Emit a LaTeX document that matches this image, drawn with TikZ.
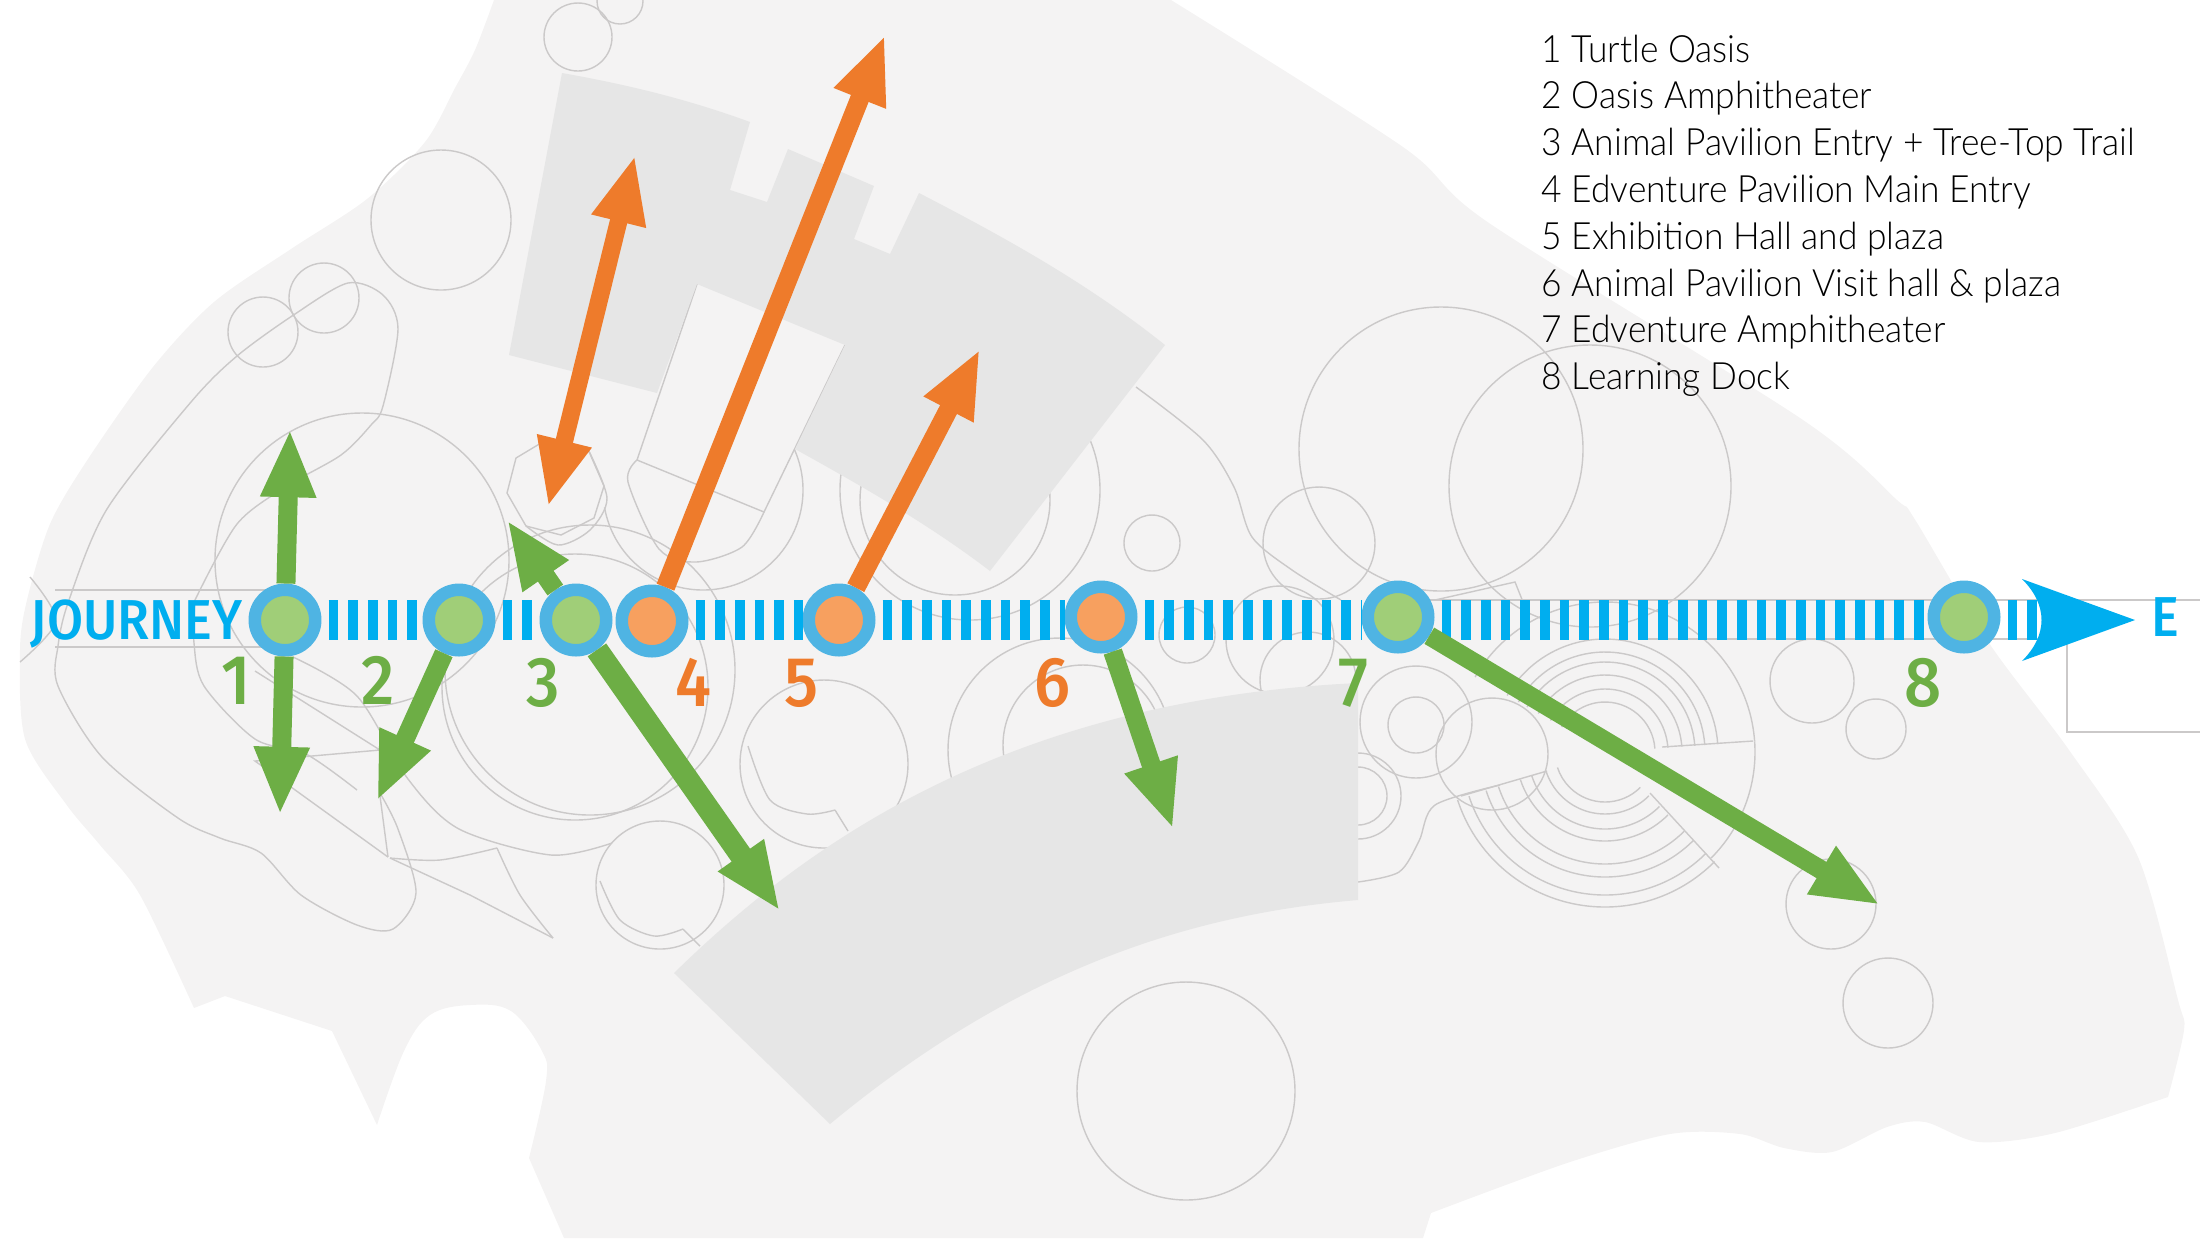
\documentclass[tikz,border=0pt]{standalone}
\usepackage{xcolor}
\usepackage{fontspec}
\usepackage{tikz}
\usetikzlibrary{arrows.meta,positioning,calc}

\setmainfont{Fira Sans}
\newfontfamily\signfont[FakeStretch=0.93,UprightFont=* Medium]{Fira Sans}
\newfontfamily\legendfont[FakeStretch=0.94,UprightFont=* Light]{Lato}

\definecolor{landgray}{HTML}{F4F3F3}
\definecolor{buildgray}{HTML}{E6E6E6}
\definecolor{plangray}{HTML}{CBC9C9}
\definecolor{railblue}{HTML}{00AEEF}
\definecolor{ringblue}{HTML}{4FB4E3}
\definecolor{paleleaf}{HTML}{A0CE78}
\definecolor{paleorange}{HTML}{F7A05F}
\definecolor{leaf}{HTML}{6DAE45}
\definecolor{deeporange}{HTML}{EE7B2B}

\begin{document}
\begin{tikzpicture}[x=0.01cm, y=-0.01cm,
    plan/.style={draw=plangray, line width=0.4pt},
    ringnode/.style={circle, draw=ringblue, line width=3.55pt, minimum size=17.2pt, inner sep=0pt},
    stripes/.style={draw=railblue, line width=11.4pt, dash pattern=on 2.75pt off 2.85pt, dash phase=3.6pt},
    flow/.style={line width=5.4pt, -{Triangle[length=19.4pt, width=14.5pt]}},
    twoway/.style={line width=5.0pt, {Triangle[length=19.4pt, width=14.5pt]}-{Triangle[length=19.4pt, width=14.5pt]}},
    numlabel/.style={anchor=base, font=\signfont\fontsize{20}{20}\selectfont},
    raillabel/.style={anchor=base west, text=railblue, inner sep=0pt, font=\signfont\fontsize{16}{16}\selectfont},
    legendline/.style={anchor=base west, inner sep=0pt, text=black, font=\legendfont\fontsize{10.7}{13}\selectfont}]

    \useasboundingbox (0,0) rectangle (2200,1238);

    % Site
    \fill[landgray] plot[smooth, tension=0.5] coordinates {(494,0) (475,50) (455,88) (425,142) (367,199) (291,249) (214,302) (153,367) (88,459) (50,524) (27,600) (20,650) (25,739) (66,804) (100,845) (140,895) (194,1008)}
        -- (225,996) -- (332,1031) -- (377,1125)
        -- plot[smooth, tension=0.6] coordinates {(377,1125) (404,1051) (430,1015) (470,1005) (511,1011) (542,1051) (546,1081) (529,1158)}
        -- (564,1238) -- (1423,1238) -- (1431,1213)
        -- plot[smooth, tension=0.5] coordinates {(1431,1213) (1567,1163) (1670,1134) (1740,1134) (1784,1148) (1832,1152) (1887,1127) (1925,1122) (1979,1142) (2055,1133) (2168,1097)}
        -- plot[smooth, tension=0.5] coordinates {(2168,1097) (2184,1030) (2178,1000) (2138,857) (2069,750) (1989,643) (1914,518) (1897,500) (1803,420) (1489,223) (1403,147) (1171,0)}
        -- cycle;

    % Plan outlines
    \foreach \cx/\cy/\r in {441/220/70, 324/298/35, 263/332/35, 578/37/34, 620/1/23, 362/560/147,
        575/687/133, 590/670/145, 970/490/130, 955/500/95, 1152/543/28,
        1319/543/56, 1441/449/142, 1590/486/141, 824/764/84, 660/885/64, 1060/750/112, 1083/745/80,
        1187/635/28, 1280/640/54, 1308/680/48, 1186/1091/109, 1416/722/56, 1416/725/28,
        1358/796/43, 1358/796/29, 1492/754/56, 1812/681/42, 1876/729/30, 1831/904/45, 1888/1003/45}
        \draw[plan] (\cx,\cy) circle (\r);
    \draw[plan] (703,490) ++(-24:100) arc[start angle=-24, end angle=170, radius=100];
    \draw[plan] (516,458) -- (507,493) -- (526,526) -- (561,535) -- (594,518) -- (604,486) -- (587,447) -- (541,443) -- cycle;
    \draw[plan] plot[smooth] coordinates {(587,447) (607,498) (590,530) (558,545) (526,526)};
    \draw[plan] plot[smooth] coordinates {(195,600) (237,524) (287,486) (341,455) (371,425) (383,406) (398,329) (383,295) (348,283) (295,314) (237,356) (191,402) (107,509) (69,600) (58,646) (58,686) (102,757) (178,818) (220,838) (261,853) (301,895) (357,925) (393,929) (416,893) (398,829) (380,793)};
    \draw[plan] plot[smooth] coordinates {(195,600) (194,643) (204,686) (255,739) (306,754) (357,790)};
    \draw[plan] plot[smooth] coordinates {(293,657) (357,696) (408,779) (459,829) (551,855) (612,843)};
    \draw[plan] (55,590) -- (270,590);
    \draw[plan] (55,647) -- (270,647);
    \draw[plan] plot[smooth] coordinates {(30,577) (56,621) (20,662)};
    \draw[plan] (255,671) -- (380,750) -- (255,761) -- (388,857);
    \draw[plan] (380,796) -- (388,857);
    \draw[plan] plot[smooth] coordinates {(390,858) (440,860) (497,848)};
    \draw[plan] (390,858) -- (470,895) -- (553,938);
    \draw[plan] plot[smooth] coordinates {(497,848) (520,895) (553,938)};
    \draw[plan] (697,284) -- (637,460) -- (764,512) -- (845,345);
    \draw[plan] plot[smooth] coordinates {(637,460) (628,482) (659,549) (696,562) (742,547) (764,512)};
    \draw[plan] plot[smooth] coordinates {(748,746) (770,800) (807,814) (835,810)};
    \draw[plan] (835,810) -- (848,831);
    \draw[plan] plot[smooth] coordinates {(600,881) (620,920) (654,936) (683,929)};
    \draw[plan] (683,929) -- (700,946);
    \draw[plan] plot[smooth] coordinates {(1136,387) (1203,440) (1234,487) (1252,537) (1292,570) (1341,600)};
    \draw[plan] (1435,600) -- (1515,582) -- (1529,617);
    \draw[plan] plot[smooth] coordinates {(1358,882) (1399,872) (1419,841) (1435,805) (1500,785)};
    \draw[plan] (1430,600) -- (2200,600);
    \draw[plan] (1640,639) -- (2067,639);
    \draw[plan] (2067,602) -- (2067,732) -- (2200,732);
    \foreach \r in {50,63,77,90,100,113}
        \draw[plan] (1605,752) ++(-4:\r) arc[start angle=-4, end angle=-150, radius=\r];
    \foreach \r in {50,62,77,89,112,125,143,155}
        \draw[plan] (1605,752) ++(45:\r) arc[start angle=45, end angle=162, radius=\r];
    \draw[plan] (1605,752) ++(-4:150) arc[start angle=-4, end angle=45, radius=150];
    \draw[plan] (1605,752) ++(-150:150) arc[start angle=-150, end angle=-4, radius=150];
    \draw[plan] (1662,747) -- (1753,741);
    \draw[plan] (1650,793) -- (1719,868);
    \draw[plan] (1547,771) -- (1461,796);

    % Buildings
    \fill[buildgray] (562,73) .. controls (630,85) and (690,100) .. (750,122) -- (730,190) -- (767,202) -- (788,149) -- (874,186) -- (854,239) -- (890,254) -- (919,193)
        .. controls (1010,240) and (1090,285) .. (1165,345) -- (990,571) .. controls (930,525) and (860,485) .. (795,449) -- (845,345) -- (697,284) -- (657,393) -- (509,355) -- cycle;
    \fill[buildgray] (1358,683) -- (1358,900) .. controls (1180,915) and (1010,975) .. (830,1124) -- (674,973) .. controls (800,850) and (1000,700) .. (1358,683) -- cycle;

    % Rail end
    \coordinate (rail) at (0,620);
    \coordinate (railend) at (2040,620);
    \coordinate (headtip) at (2135,620);
    \coordinate (headtop) at (2022,579);
    \coordinate (headbot) at (2022,661);
    \fill[railblue] (headtop) -- (headtip) -- (headbot) .. controls (2048,635) and (2048,605) .. (headtop) -- cycle;

    % Stops
    \foreach \name/\px/\py/\col in {1/285/620/paleleaf, 2/459/620/paleleaf, 3/576/620/paleleaf, 4/652/621/paleorange,
        5/839/620/paleorange, 6/1101/617/paleorange, 7/1398/617/paleleaf, 8/1964/617/paleleaf}
        \node[ringnode, fill=\col] (stop\name) at (\px,\py) {};

    % Rail stripes
    \foreach \a/\b in {1/2, 2/3, 3/4, 4/5, 5/6, 6/7, 7/8}
        \draw[stripes] (stop\a.east |- rail) -- (stop\b.west |- rail);
    \draw[stripes] (stop8.east |- rail) -- (railend);

    % Tips of the arrows
    \coordinate (upone) at (290,429);
    \coordinate (downone) at (280,815);
    \coordinate (downtwo) at (377,801);
    \coordinate (upthree) at (507,520);
    \coordinate (downthree) at (780,911);
    \coordinate (upfour) at (885,35);
    \coordinate (upfive) at (980,349);
    \coordinate (downsix) at (1173,829);
    \coordinate (downseven) at (1880,905);
    \coordinate (pavnorth) at (635,155);
    \coordinate (pavsouth) at (548,507);

    % Arrows
    \draw[flow, leaf] (stop1) -- (upone);
    \draw[flow, leaf] (stop1) -- (downone);
    \draw[flow, leaf] (stop2) -- (downtwo);
    \draw[flow, leaf] (stop3) -- (upthree);
    \draw[flow, leaf, line width=6.4pt] (stop3) -- (downthree);
    \draw[flow, deeporange] (stop4) -- (upfour);
    \draw[flow, deeporange] (stop5) -- (upfive);
    \draw[flow, leaf] (stop6) -- (downsix);
    \draw[flow, leaf] (stop7) -- (downseven);
    \draw[twoway, deeporange] (pavsouth) -- (pavnorth);

    % Numbers
    \foreach \n/\px/\py/\col in {1/236/704/leaf, 2/378/704/leaf, 3/543/706/leaf, 4/693/706/deeporange,
        5/801/706/deeporange, 6/1052/706/deeporange, 7/1353/706/leaf, 8/1923/706/leaf}
        \node[numlabel, text=\col] (num\n) at (\px,\py) {\n};

    % Rail labels
    \node[raillabel] (journey) at (30,639) {JOURNEY};
    \node[raillabel] (endlabel) at (2151,636) {E};

    % Legend
    \foreach \n/\txt in {1/Turtle Oasis, 2/Oasis Amphitheater, 3/Animal Pavilion Entry + Tree-Top Trail, 4/Edventure Pavilion Main Entry,
        5/Exhibition Hall and plaza, 6/Animal Pavilion Visit hall \& plaza, 7/Edventure Amphitheater, 8/Learning Dock}
        \node[legendline] (legend\n) at (1541,{62+46.8*(\n-1)}) {\n\ \txt};

\end{tikzpicture}
\end{document}
